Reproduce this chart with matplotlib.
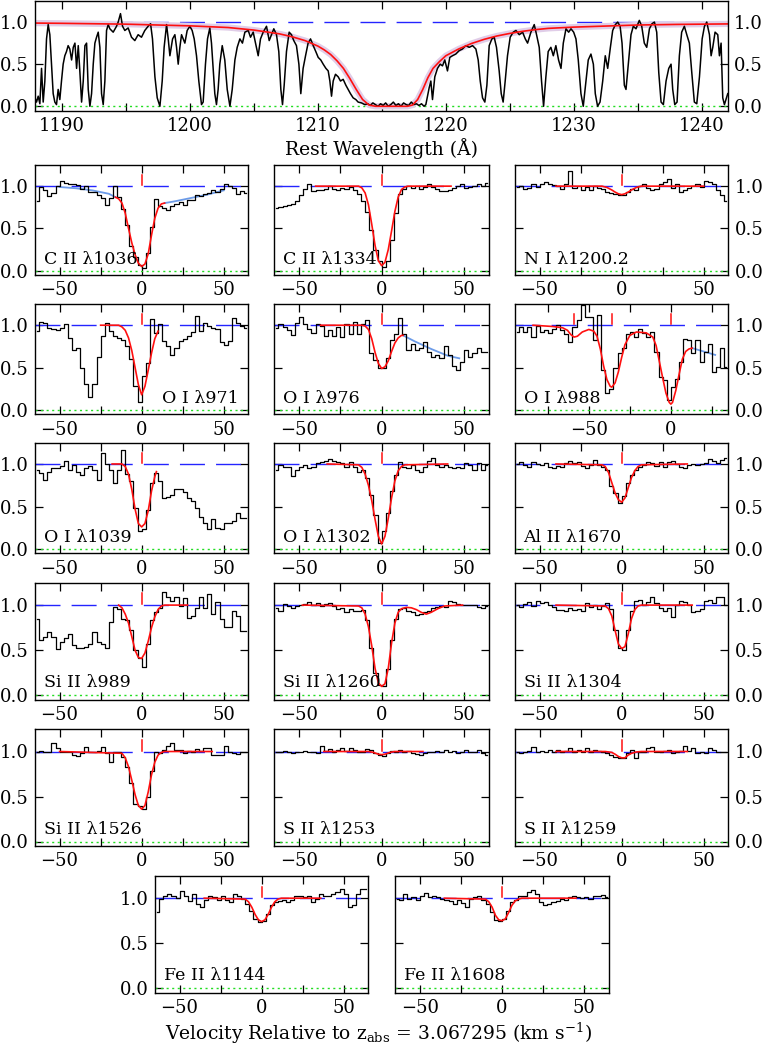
import numpy as np
import matplotlib.pyplot as plt
from matplotlib.ticker import MultipleLocator, FormatStrFormatter

plt.rcParams['font.family'] = ['DejaVu Serif']
plt.rcParams['mathtext.fontset'] = 'dejavuserif'

W, H = 764, 1047
nan = np.nan

# ---------------- top panel: damped Lya ----------------
lya_wave = [1187.90, 1188.02, 1188.15, 1188.28, 1188.41, 1188.54, 1188.67, 1188.80, 1188.93, 1189.06,
            1189.19, 1189.32, 1189.45, 1189.58, 1189.71, 1189.84, 1189.97, 1190.10, 1190.23, 1190.36,
            1190.49, 1190.62, 1190.76, 1190.89, 1191.02, 1191.15, 1191.28, 1191.41, 1191.54, 1191.67,
            1191.80, 1191.93, 1192.06, 1192.19, 1192.32, 1192.45, 1192.58, 1192.71, 1192.84, 1192.97,
            1193.10, 1193.23, 1193.36, 1193.49, 1193.62, 1193.75, 1194.01, 1194.27, 1194.40, 1194.58,
            1194.74, 1194.92, 1195.18, 1195.44, 1195.70, 1195.96, 1196.22, 1196.48, 1196.74, 1196.93,
            1197.08, 1197.27, 1197.45, 1197.66, 1197.84, 1197.99, 1198.18, 1198.31, 1198.44, 1198.65,
            1198.83, 1198.96, 1199.09, 1199.22, 1199.35, 1199.61, 1199.79, 1200.00, 1200.18, 1200.34,
            1200.52, 1200.70, 1200.91, 1201.04, 1201.22, 1201.38, 1201.56, 1201.69, 1201.82, 1201.95,
            1202.08, 1202.21, 1202.34, 1202.53, 1202.73, 1202.92, 1203.13, 1203.31, 1203.52, 1203.70,
            1203.91, 1204.11, 1204.30, 1204.56, 1204.74, 1204.95, 1205.13, 1205.34, 1205.52, 1205.73,
            1205.99, 1206.20, 1206.38, 1206.56, 1206.77, 1206.95, 1207.11, 1207.24, 1207.37, 1207.55,
            1207.76, 1207.94, 1208.12, 1208.33, 1208.52, 1208.67, 1208.85, 1209.04, 1209.24, 1209.43,
            1209.64, 1209.84, 1210.03, 1210.23, 1210.42, 1210.63, 1210.81, 1210.94, 1211.07, 1211.20,
            1211.38, 1211.59, 1211.77, 1211.98, 1212.19, 1212.37, 1212.55, 1212.76, 1212.97, 1213.15,
            1213.41, 1213.67, 1213.90, 1214.10, 1214.30, 1214.50, 1214.70, 1214.90, 1215.10, 1215.30,
            1215.50, 1215.70, 1215.90, 1216.10, 1216.30, 1216.50, 1216.70, 1216.90, 1217.10, 1217.30,
            1217.50, 1217.70, 1217.90, 1218.10, 1218.30, 1218.44, 1218.70, 1218.83, 1218.96, 1219.14,
            1219.35, 1219.56, 1219.74, 1219.92, 1220.13, 1220.31, 1220.52, 1220.78, 1221.04, 1221.30,
            1221.56, 1221.83, 1222.09, 1222.35, 1222.53, 1222.69, 1222.87, 1223.05, 1223.21, 1223.39,
            1223.60, 1223.78, 1223.96, 1224.17, 1224.33, 1224.48, 1224.64, 1224.82, 1225.03, 1225.27,
            1225.48, 1225.74, 1226.00, 1226.21, 1226.39, 1226.65, 1226.91, 1227.09, 1227.30, 1227.48,
            1227.64, 1227.82, 1228.00, 1228.21, 1228.40, 1228.60, 1228.81, 1229.00, 1229.18, 1229.39,
            1229.60, 1229.78, 1229.99, 1230.17, 1230.35, 1230.56, 1230.74, 1230.95, 1231.13, 1231.34,
            1231.53, 1231.68, 1231.86, 1232.05, 1232.26, 1232.46, 1232.65, 1232.86, 1233.04, 1233.25,
            1233.43, 1233.62, 1233.77, 1233.95, 1234.08, 1234.26, 1234.47, 1234.65, 1234.86, 1235.12,
            1235.31, 1235.51, 1235.70, 1235.91, 1236.11, 1236.30, 1236.48, 1236.64, 1236.82, 1237.00,
            1237.21, 1237.42, 1237.60, 1237.73, 1237.89, 1238.07, 1238.25, 1238.43, 1238.64, 1238.83,
            1239.03, 1239.22, 1239.42, 1239.61, 1239.82, 1240.03, 1240.21, 1240.39, 1240.60, 1240.73,
            1240.86, 1241.04, 1241.25, 1241.38, 1241.51, 1241.64, 1241.77, 1242.03]
lya_flux = [0.10, 0.05, 0.12, 0.03, 0.45, 0.05, 0.30, 0.80, 0.97, 0.85,
            0.50, 0.15, 0.05, 0.02, 0.20, 0.08, 0.30, 0.50, 0.60, 0.65,
            0.72, 0.68, 0.55, 0.70, 0.75, 0.45, 0.72, 0.40, 0.05, 0.30,
            0.72, 0.75, 0.20, 0.00, 0.15, 0.50, 0.75, 0.82, 0.88, 0.70,
            0.15, 0.02, 0.30, 0.90, 0.97, 0.92, 0.88, 0.95, 1.00, 1.10,
            0.95, 0.90, 0.93, 0.82, 0.78, 0.85, 0.82, 0.90, 0.95, 0.98,
            0.80, 0.35, 0.10, 0.00, 0.30, 0.70, 0.97, 0.80, 0.60, 0.80,
            0.85, 0.70, 0.50, 0.70, 0.85, 0.75, 0.90, 0.95, 0.90, 0.80,
            0.60, 0.30, 0.02, 0.05, 0.50, 0.80, 0.93, 0.75, 0.45, 0.15,
            0.02, 0.20, 0.50, 0.72, 0.55, 0.20, 0.00, 0.20, 0.55, 0.70,
            0.80, 0.75, 0.88, 0.90, 0.82, 0.88, 0.75, 0.60, 0.80, 0.88,
            0.95, 0.78, 0.85, 0.92, 0.85, 0.65, 0.20, 0.02, 0.25, 0.65,
            0.88, 0.85, 0.78, 0.72, 0.50, 0.15, 0.45, 0.60, 0.75, 0.80,
            0.72, 0.65, 0.58, 0.55, 0.50, 0.45, 0.42, 0.30, 0.12, 0.30,
            0.38, 0.35, 0.30, 0.32, 0.25, 0.20, 0.15, 0.10, 0.08, 0.05,
            0.04, 0.02, 0.03, 0.01, 0.04, 0.02, 0.00, 0.03, 0.01, 0.04,
            0.00, 0.02, 0.05, 0.01, 0.03, 0.00, 0.04, 0.02, 0.01, 0.05,
            0.02, 0.03, 0.01, 0.03, 0.00, 0.02, 0.22, 0.30, 0.08, 0.35,
            0.45, 0.50, 0.48, 0.55, 0.42, 0.58, 0.60, 0.62, 0.66, 0.68,
            0.72, 0.70, 0.72, 0.68, 0.55, 0.30, 0.10, 0.05, 0.25, 0.72,
            0.80, 0.82, 0.70, 0.42, 0.15, 0.05, 0.30, 0.60, 0.82, 0.88,
            0.90, 0.85, 0.88, 0.80, 0.75, 0.88, 0.97, 0.85, 0.70, 0.30,
            0.00, 0.35, 0.65, 0.70, 0.60, 0.72, 0.55, 0.45, 0.75, 0.92,
            0.88, 0.92, 0.88, 0.80, 0.55, 0.15, 0.00, 0.30, 0.55, 0.62,
            0.50, 0.15, 0.00, 0.05, 0.30, 0.60, 0.45, 0.70, 0.90, 0.97,
            1.00, 0.95, 0.75, 0.25, 0.20, 0.50, 0.85, 0.95, 0.92, 1.02,
            0.95, 0.75, 0.70, 0.92, 0.98, 1.00, 0.88, 0.40, 0.05, 0.02,
            0.30, 0.45, 0.50, 0.20, 0.02, 0.05, 0.60, 0.88, 0.95, 0.85,
            0.75, 0.40, 0.05, 0.03, 0.35, 0.80, 0.95, 1.00, 0.85, 0.60,
            0.70, 0.88, 0.85, 0.60, 0.75, 0.10, 0.02, 0.15]
lya_fit_wave = [1187.9, 1190.0, 1195.0, 1200.0, 1203.0, 1205.0, 1207.0, 1208.0, 1209.0, 1210.0,
                1210.5, 1211.0, 1211.5, 1212.0, 1212.5, 1213.0, 1213.5, 1214.0, 1214.5, 1217.0,
                1217.4, 1217.8, 1218.2, 1218.6, 1219.0, 1219.5, 1220.0, 1221.0, 1222.0, 1223.0,
                1224.0, 1225.0, 1226.0, 1227.0, 1228.0, 1230.0, 1233.0, 1235.0, 1238.0, 1242.05]
lya_fit_flux = [0.988, 0.985, 0.975, 0.955, 0.935, 0.905, 0.86, 0.825, 0.78, 0.715,
                0.67, 0.615, 0.54, 0.45, 0.33, 0.20, 0.08, 0.015, 0.0, 0.0,
                0.015, 0.08, 0.20, 0.34, 0.45, 0.53, 0.60, 0.68, 0.745, 0.795,
                0.835, 0.865, 0.89, 0.91, 0.925, 0.94, 0.955, 0.965, 0.972, 0.978]

# ---------------- metal lines: flux in 2.5 km/s pixels ----------------
c2_1036 = [0.82, 0.99, 0.96, 0.88, 0.92, 1.00, 1.06, 1.04, 1.02, 1.02, 1.01, 0.97, 1.00, 0.93, 0.93, 0.90,
           0.86, 0.78, 0.86, 1.00, 0.87, 0.73, 0.54, 0.29, 0.16, 0.07, 0.03, 0.21, 0.52, 0.85, 0.76, 0.74,
           0.72, 0.77, 0.79, 0.81, 0.78, 0.84, 0.84, 0.89, 0.88, 0.91, 0.92, 0.96, 0.93, 0.97, 1.02, 1.00,
           0.98, 0.91, 0.94, 0.92]
c2_1036_fit_v = [-16, -14, -12, -10, -8, -6, -4, -2, 0, 2, 4, 6, 8, 10, 12, 14]
c2_1036_fit_f = [0.87, 0.85, 0.80, 0.68, 0.50, 0.33, 0.19, 0.09, 0.05, 0.08, 0.20, 0.42, 0.62, 0.74, 0.79, 0.80]
c2_1036_cont_v = [-50, -40, -30, -20, -16, nan, 14, 20, 30, 40, 50]
c2_1036_cont_f = [0.99, 0.975, 0.95, 0.91, 0.87, nan, 0.80, 0.82, 0.86, 0.90, 0.95]

c2_1334 = [0.74, 0.75, 0.76, 0.78, 0.79, 0.82, 0.89, 0.97, 1.02, 0.94, 0.96, 0.96, 0.97, 1.00, 0.97, 0.95,
           0.98, 0.97, 0.99, 0.95, 0.91, 0.82, 0.70, 0.48, 0.25, 0.11, 0.05, 0.12, 0.36, 0.68, 0.91, 0.97,
           1.00, 0.98, 1.00, 0.97, 0.99, 1.02, 0.99, 0.97, 0.94, 0.94, 0.96, 0.98, 1.00, 1.03, 0.98, 0.99,
           1.00, 1.02, 1.00, 1.04]
c2_1334_fit_v = [-40, -14, -12, -10, -8, -6, -4, -2, 0, 2, 4, 6, 8, 10, 12, 14, 16, 42]
c2_1334_fit_f = [1, 1, 0.98, 0.92, 0.78, 0.55, 0.30, 0.12, 0.06, 0.10, 0.25, 0.47, 0.70, 0.87, 0.96, 0.99, 1, 1]

n1_1200 = [0.99, 1.00, 0.97, 0.98, 1.02, 0.99, 1.03, 1.05, 1.03, 1.01, 1.00, 0.97, 1.03, 1.18, 0.98, 1.00,
           0.96, 0.99, 0.96, 1.00, 0.98, 0.97, 0.93, 0.92, 0.91, 0.89, 0.90, 0.93, 0.97, 0.95, 1.00, 1.02,
           0.98, 0.95, 0.97, 1.03, 1.05, 1.08, 0.98, 1.02, 0.93, 0.96, 0.98, 1.00, 1.02, 0.99, 1.06, 1.05,
           1.02, 0.96, 0.90, 0.82]
n1_1200_fit_v = [-40, -12, -9, -6, -4, -2, 0, 2, 4, 6, 9, 12, 50]
n1_1200_fit_f = [1, 1, 0.985, 0.955, 0.93, 0.91, 0.90, 0.91, 0.93, 0.955, 0.985, 1, 1]

o1_971 = [0.93, 1.04, 1.03, 0.97, 0.96, 0.94, 0.97, 1.02, 0.85, 0.71, 0.73, 0.50, 0.31, 0.15, 0.31, 0.62,
          0.87, 1.03, 0.93, 0.87, 0.85, 0.83, 0.75, 0.60, 0.28, 0.10, 0.40, 0.55, 1.07, 0.91, 1.01, 0.81,
          0.75, 0.65, 0.73, 0.81, 0.84, 0.87, 0.92, 1.11, 0.93, 1.03, 0.99, 0.97, 0.96, 0.80, 0.77, 0.81,
          1.09, 1.03, 0.99, 0.97]
o1_971_fit_v = [-25, -14, -12, -10, -8, -6, -4, -2, 0, 2, 4, 6, 8, 10]
o1_971_fit_f = [1, 1, 0.98, 0.94, 0.85, 0.70, 0.50, 0.30, 0.18, 0.28, 0.47, 0.67, 0.84, 0.93]

o1_976 = [0.97, 1.02, 0.98, 0.94, 0.89, 1.03, 1.10, 1.02, 0.95, 0.91, 1.02, 0.99, 0.87, 0.94, 0.87, 0.98,
          0.86, 1.02, 0.90, 1.04, 0.90, 1.02, 1.06, 0.67, 0.59, 0.49, 0.50, 0.61, 0.82, 0.90, 1.08, 0.90,
          0.71, 0.78, 0.71, 0.73, 0.80, 0.69, 0.63, 0.65, 0.61, 0.75, 0.65, 0.52, 0.47, 0.57, 0.71, 0.63,
          0.67, 0.73, 0.69, 0.69]
o1_976_fit_v = [-37, -12, -10, -8, -6, -4, -2, 0, 2, 4, 6, 8, 10, 12, 13]
o1_976_fit_f = [1, 1, 0.99, 0.95, 0.84, 0.68, 0.55, 0.49, 0.51, 0.58, 0.69, 0.79, 0.85, 0.88, 0.88]
o1_976_cont_v = [13, 20, 30, 40, 47]
o1_976_cont_f = [0.88, 0.81, 0.72, 0.64, 0.61]

o1_988 = [0.92, 0.98, 0.92, 0.98, 0.86, 0.99, 0.92, 0.94, 0.91, 0.96, 1.00, 0.94, 0.90, 0.80, 0.98, 1.06,
          1.24, 1.10, 1.10, 0.82, 1.12, 0.47, 0.20, 0.25, 0.49, 0.67, 0.73, 0.90, 0.92, 0.86, 0.95, 0.91,
          0.86, 0.92, 0.69, 0.39, 0.35, 0.12, 0.27, 0.37, 0.57, 0.84, 0.82, 0.67, 0.82, 0.57, 0.69, 0.78,
          0.45, 0.51, 0.73, 0.51]
o1_988_fit_v = [-84, -72, -66, -63, -61, -59, -57, -54, -50, -47, -45, -43, -41, -39, -37, -36, -34, -32,
                -30, -28, -25, -21, -15, -11, -9, -7, -5, -3, -1, 0, 1, 3, 5, 7, 9, 11, 13]
o1_988_fit_f = [1.0, 0.985, 0.97, 0.94, 0.89, 0.86, 0.87, 0.92, 0.95, 0.93, 0.87, 0.72, 0.52, 0.36, 0.28,
                0.27, 0.32, 0.45, 0.62, 0.77, 0.88, 0.92, 0.91, 0.86, 0.76, 0.57, 0.38, 0.20, 0.09, 0.07,
                0.09, 0.23, 0.42, 0.60, 0.69, 0.72, 0.73]
o1_988_cont_v = [13, 20, 27]
o1_988_cont_f = [0.73, 0.69, 0.65]
o1_988_comps = [-59.3, -35.9, 0.0]

o1_1039 = [0.93, 0.89, 0.81, 0.90, 0.95, 0.95, 0.98, 1.03, 0.93, 0.99, 0.90, 0.87, 0.95, 0.98, 0.93, 0.81,
           1.13, 1.00, 0.93, 0.78, 0.93, 1.16, 0.88, 0.80, 0.48, 0.21, 0.23, 0.46, 0.78, 0.89, 0.80, 0.60,
           0.61, 0.64, 0.70, 0.71, 0.67, 0.60, 0.56, 0.48, 0.38, 0.31, 0.24, 0.35, 0.25, 0.23, 0.31, 0.31,
           0.33, 0.42, 0.36, 0.37]
o1_1039_fit_v = [-18, -12, -10, -8, -6, -4, -2, 0, 2, 4, 6, 8, 9]
o1_1039_fit_f = [1, 1, 0.97, 0.88, 0.70, 0.47, 0.30, 0.26, 0.30, 0.45, 0.68, 0.85, 0.91]

o1_1302 = [0.93, 0.99, 0.97, 0.97, 0.86, 0.93, 0.97, 0.99, 0.95, 0.97, 1.01, 1.02, 1.03, 1.06, 1.03, 1.02,
           1.01, 0.97, 1.02, 0.97, 0.91, 0.93, 0.84, 0.63, 0.40, 0.07, 0.21, 0.42, 0.68, 0.87, 1.02, 0.97,
           0.95, 0.99, 0.93, 0.91, 0.97, 1.03, 1.07, 0.99, 0.97, 0.99, 0.96, 0.95, 0.97, 0.95, 1.01, 0.99,
           0.93, 1.01, 0.93, 0.99]
o1_1302_fit_v = [-33, -14, -12, -10, -8, -6, -4, -2, 0, 2, 4, 6, 8, 10, 12, 14, 40]
o1_1302_fit_f = [1, 0.99, 0.96, 0.88, 0.75, 0.57, 0.35, 0.15, 0.06, 0.15, 0.36, 0.60, 0.80, 0.92, 0.97, 0.99, 1]

al2_1670 = [1.00, 1.02, 0.99, 0.97, 1.02, 1.00, 0.99, 1.01, 0.97, 0.95, 0.98, 0.97, 1.01, 1.03, 1.01, 1.02,
            0.98, 0.95, 0.99, 1.05, 0.99, 0.97, 0.93, 0.74, 0.66, 0.54, 0.62, 0.78, 0.87, 0.93, 0.97, 0.99,
            1.02, 1.01, 0.98, 1.02, 0.97, 1.02, 1.03, 1.00, 0.97, 0.95, 0.99, 1.00, 0.99, 1.00, 1.01, 1.06,
            1.03, 1.01, 1.05, 1.07]
al2_1670_fit_v = [-40, -12, -10, -8, -6, -4, -2, 0, 2, 4, 6, 8, 10, 12, 40]
al2_1670_fit_f = [1, 0.99, 0.97, 0.90, 0.78, 0.66, 0.58, 0.55, 0.60, 0.72, 0.84, 0.92, 0.97, 0.99, 1]

si2_989 = [0.85, 0.61, 0.65, 0.70, 0.65, 0.51, 0.59, 0.64, 0.68, 0.56, 0.53, 0.52, 0.54, 0.57, 0.70, 0.59,
           0.57, 0.53, 0.81, 0.98, 0.96, 0.85, 0.83, 0.72, 0.50, 0.41, 0.32, 0.57, 0.83, 0.92, 0.97, 1.15,
           1.09, 1.05, 1.09, 0.99, 1.08, 0.86, 0.88, 0.97, 1.09, 0.97, 1.12, 0.90, 1.03, 0.85, 0.76, 0.76,
           0.93, 0.88, 0.71, 0.71]
si2_989_fit_v = [-14, -12, -10, -8, -6, -4, -2, 0, 2, 4, 6, 8, 10, 12, 14, 28]
si2_989_fit_f = [1, 0.97, 0.90, 0.80, 0.65, 0.50, 0.42, 0.41, 0.47, 0.60, 0.75, 0.87, 0.95, 0.99, 1, 1]

si2_1260 = [0.97, 0.94, 1.01, 0.99, 0.97, 0.99, 1.00, 1.01, 1.03, 1.00, 1.02, 0.99, 1.01, 1.02, 0.99, 0.96,
            0.97, 0.92, 0.96, 0.93, 0.94, 0.95, 0.83, 0.52, 0.25, 0.12, 0.10, 0.29, 0.61, 0.85, 0.96, 0.97,
            0.94, 0.92, 0.89, 0.90, 0.92, 0.94, 0.97, 0.98, 0.99, 0.98, 1.05, 1.03, 1.01, 1.00, 1.00, 1.00,
            1.00, 0.98, 0.97, 0.99]
si2_1260_fit_v = [-48, -14, -12, -10, -8, -6, -4, -2, 0, 2, 4, 6, 8, 10, 12, 15, 18, 21, 24, 27, 30, 34, 38, 49]
si2_1260_fit_f = [1, 0.99, 0.97, 0.90, 0.76, 0.55, 0.30, 0.14, 0.10, 0.13, 0.30, 0.58, 0.80, 0.92, 0.96,
                  0.975, 0.97, 0.95, 0.92, 0.90, 0.92, 0.96, 0.99, 1]

si2_1304 = [1.00, 0.98, 1.01, 1.03, 0.99, 1.04, 1.02, 1.03, 1.00, 0.98, 0.95, 0.95, 0.93, 0.97, 0.95, 0.96,
            0.94, 1.02, 0.98, 1.00, 0.96, 0.99, 1.02, 0.96, 0.72, 0.52, 0.50, 0.72, 0.93, 1.04, 1.06, 1.00,
            1.03, 1.09, 1.02, 0.97, 0.93, 0.97, 0.87, 1.00, 1.04, 1.03, 1.00, 0.92, 0.93, 0.96, 1.04, 1.06,
            1.02, 1.09, 1.09, 1.00]
si2_1304_fit_v = [-40, -10, -8, -6, -4, -2, 0, 2, 4, 6, 8, 10, 12, 43]
si2_1304_fit_f = [1, 0.99, 0.96, 0.88, 0.72, 0.57, 0.52, 0.54, 0.68, 0.85, 0.95, 0.99, 1, 1]

si2_1526 = [0.99, 1.01, 1.00, 1.00, 1.09, 1.04, 1.00, 1.00, 1.00, 0.96, 0.95, 0.98, 1.05, 1.00, 1.00, 1.01,
            1.05, 0.98, 0.88, 1.00, 1.00, 0.94, 0.83, 0.65, 0.42, 0.39, 0.36, 0.49, 0.78, 1.00, 0.98, 1.02,
            1.06, 1.09, 1.02, 1.02, 0.98, 1.01, 0.99, 1.03, 1.01, 1.04, 1.04, 0.96, 0.96, 0.96, 1.06, 1.00,
            0.98, 0.97, 0.99, 1.00]
si2_1526_fit_v = [-50, -12, -10, -8, -6, -4, -2, 0, 2, 4, 6, 8, 10, 12, 14, 43]
si2_1526_fit_f = [1, 0.98, 0.93, 0.83, 0.68, 0.52, 0.40, 0.36, 0.40, 0.55, 0.74, 0.88, 0.96, 0.99, 1, 1]

s2_1253 = [1.00, 0.99, 1.01, 0.99, 0.98, 1.00, 0.99, 1.01, 0.99, 1.00, 0.98, 1.06, 1.01, 1.03, 1.00, 1.02,
           1.04, 1.01, 1.04, 1.02, 1.00, 0.99, 1.03, 1.02, 0.98, 0.96, 0.95, 0.98, 1.01, 1.00, 1.02, 1.00,
           1.01, 0.98, 0.97, 0.96, 0.98, 1.00, 0.99, 1.01, 0.99, 1.02, 1.00, 1.01, 0.98, 1.00, 1.02, 0.99,
           1.00, 1.02, 0.98, 0.96]
s2_1253_fit_v = [-35, -8, -5, -2, 0, 2, 5, 8, 25]
s2_1253_fit_f = [1, 1, 0.99, 0.97, 0.965, 0.97, 0.99, 1, 1]

s2_1259 = [1.00, 0.98, 0.99, 1.01, 1.05, 1.00, 1.01, 0.99, 1.02, 1.00, 1.02, 0.99, 1.01, 1.04, 1.00, 1.02,
           0.99, 1.04, 1.00, 1.02, 1.01, 0.99, 0.98, 0.96, 0.94, 0.93, 0.93, 0.98, 1.02, 0.93, 1.00, 1.00,
           1.04, 1.05, 1.00, 0.99, 1.01, 1.02, 0.98, 0.99, 1.01, 1.06, 1.01, 1.04, 0.98, 0.99, 0.98, 1.04,
           1.02, 0.99, 1.00, 0.99]
s2_1259_fit_v = [-40, -10, -6, -4, -2, 0, 2, 4, 6, 9, 12, 40]
s2_1259_fit_f = [1, 1, 0.99, 0.97, 0.945, 0.93, 0.93, 0.96, 0.98, 0.995, 1, 1]

fe2_1144 = [0.85, 0.99, 1.03, 1.05, 1.02, 1.00, 1.08, 1.02, 0.97, 1.05, 0.94, 0.90, 0.98, 1.03, 1.01, 0.98,
            1.02, 0.98, 0.96, 1.05, 1.03, 0.99, 0.94, 0.86, 0.77, 0.74, 0.75, 0.83, 0.92, 0.96, 0.97, 0.98,
            0.96, 0.98, 1.03, 1.03, 1.01, 1.03, 0.96, 0.99, 1.05, 1.03, 1.03, 1.05, 1.07, 1.10, 1.05, 0.90,
            0.92, 1.05, 1.10, 1.10]
fe2_1144_fit_v = [-35, -10, -8, -6, -4, -2, 0, 2, 4, 6, 8, 10, 12, 36]
fe2_1144_fit_f = [1, 0.99, 0.96, 0.90, 0.82, 0.76, 0.74, 0.76, 0.82, 0.90, 0.96, 0.99, 1, 1]

fe2_1608 = [0.99, 0.98, 1.05, 0.99, 1.01, 0.98, 1.03, 1.06, 1.01, 1.03, 1.01, 0.99, 0.98, 0.97, 0.94, 0.98,
            0.95, 0.90, 0.99, 1.01, 1.02, 0.98, 0.94, 0.85, 0.76, 0.75, 0.77, 0.86, 0.96, 0.98, 1.02, 1.02,
            1.07, 1.09, 1.05, 0.96, 0.92, 0.94, 0.96, 0.97, 0.99, 0.98, 1.01, 1.02, 1.01, 1.00, 1.01, 0.99,
            1.02, 1.03, 1.04, 1.01]
fe2_1608_fit_v = [-35, -10, -8, -6, -4, -2, 0, 2, 4, 6, 8, 10, 12, 45]
fe2_1608_fit_f = [1, 0.99, 0.96, 0.90, 0.81, 0.76, 0.75, 0.77, 0.84, 0.92, 0.97, 0.99, 1, 1]

# ---------------- layout (pixel boxes: left, top, right, bottom) ----------------
cols = [(35, 248.3), (274.3, 489), (515, 728.3)]
rows = [(165, 275), (304, 414.3), (442.7, 553.3), (582.5, 700), (729, 846)]
row6_cols = [(155, 368.3), (395, 609)]
row6 = (875.7, 992.7)

BLUE = '#2424ff'
LBLUE = '#6c9be8'
RED = '#ff1010'
GREEN = '#22dd22'
FS = 13

fig = plt.figure(figsize=(W / 100, H / 100), dpi=100)


def add_axes(left, top, right, bottom):
    return fig.add_axes([left / W, 1 - bottom / H, (right - left) / W, (bottom - top) / H])


def style(ax, major, minor, yleft, yright):
    ax.set_ylim(-0.05, 1.25)
    ax.set_yticks([0.0, 0.5, 1.0])
    ax.yaxis.set_major_formatter(FormatStrFormatter('%.1f'))
    ax.xaxis.set_major_locator(MultipleLocator(major))
    ax.xaxis.set_minor_locator(MultipleLocator(minor))
    ax.tick_params(which='both', direction='in', top=True, right=True, length=5.5, width=0.9,
                   labelsize=FS, pad=4.5, labelleft=yleft, labelright=yright)
    for s in ax.spines.values():
        s.set_linewidth(1.0)


# top panel
ax = add_axes(35, 1, 728, 110.5)
ax.set_xlim(1187.9, 1242.05)
style(ax, 10, 5, True, True)
ax.axhline(1.0, color=BLUE, lw=1, dashes=(18, 8))
ax.axhline(0.0, color=GREEN, lw=1, dashes=(1.5, 2.5))
ax.plot(lya_fit_wave, lya_fit_flux, color='#e0cde8', lw=4.5, solid_capstyle='butt')
ax.plot(lya_wave, lya_flux, color='black', lw=1.1)
ax.plot(lya_fit_wave, lya_fit_flux, color=RED, lw=1.2)
fig.text(381.5 / W, 1 - 149 / H, 'Rest Wavelength (Å)', ha='center', va='center', fontsize=FS + 0.5)

# metal line panels: (label, flux, fit v, fit f, cont v, cont f, first pixel, components)
panels = [
    ('C II λ1036', c2_1036, c2_1036_fit_v, c2_1036_fit_f, c2_1036_cont_v, c2_1036_cont_f, -65, [0.0]),
    ('C II λ1334', c2_1334, c2_1334_fit_v, c2_1334_fit_f, None, None, -65, [0.0]),
    ('N I λ1200.2', n1_1200, n1_1200_fit_v, n1_1200_fit_f, None, None, -65, [0.0]),
    ('O I λ971', o1_971, o1_971_fit_v, o1_971_fit_f, None, None, -65, [0.0]),
    ('O I λ976', o1_976, o1_976_fit_v, o1_976_fit_f, o1_976_cont_v, o1_976_cont_f, -65, [0.0]),
    ('O I λ988', o1_988, o1_988_fit_v, o1_988_fit_f, o1_988_cont_v, o1_988_cont_f, -95, o1_988_comps),
    ('O I λ1039', o1_1039, o1_1039_fit_v, o1_1039_fit_f, None, None, -65, [0.0]),
    ('O I λ1302', o1_1302, o1_1302_fit_v, o1_1302_fit_f, None, None, -65, [0.0]),
    ('Al II λ1670', al2_1670, al2_1670_fit_v, al2_1670_fit_f, None, None, -65, [0.0]),
    ('Si II λ989', si2_989, si2_989_fit_v, si2_989_fit_f, None, None, -65, [0.0]),
    ('Si II λ1260', si2_1260, si2_1260_fit_v, si2_1260_fit_f, None, None, -65, [0.0]),
    ('Si II λ1304', si2_1304, si2_1304_fit_v, si2_1304_fit_f, None, None, -65, [0.0]),
    ('Si II λ1526', si2_1526, si2_1526_fit_v, si2_1526_fit_f, None, None, -65, [0.0]),
    ('S II λ1253', s2_1253, s2_1253_fit_v, s2_1253_fit_f, None, None, -65, [0.0]),
    ('S II λ1259', s2_1259, s2_1259_fit_v, s2_1259_fit_f, None, None, -65, [0.0]),
    ('Fe II λ1144', fe2_1144, fe2_1144_fit_v, fe2_1144_fit_f, None, None, -65, [0.0]),
    ('Fe II λ1608', fe2_1608, fe2_1608_fit_v, fe2_1608_fit_f, None, None, -65, [0.0]),
]

for i, (label, flux, fv, ff, cv, cf, vlo, comps) in enumerate(panels):
    if i < 15:
        r, c = divmod(i, 3)
        (l, rr), (t, b) = cols[c], rows[r]
        yleft, yright = c == 0, c == 2
    else:
        c = i - 15
        (l, rr), (t, b) = row6_cols[c], row6
        yleft, yright = c == 0, False
    ax = add_axes(l, t, rr, b)
    ax.set_xlim(vlo, vlo + 130)
    style(ax, 50, 25, yleft, yright)
    v = vlo + 1.25 + 2.5 * np.arange(len(flux))
    ax.axhline(1.0, color=BLUE, lw=1, dashes=(18, 8))
    ax.axhline(0.0, color=GREEN, lw=1, dashes=(1.5, 2.5))
    if cv is not None:
        ax.plot(cv, cf, color=LBLUE, lw=1.3)
    ax.step(v, flux, where='mid', color='black', lw=0.9)
    ax.plot(fv, ff, color=RED, lw=1.2)
    for vc in comps:
        ax.plot([vc, vc], [1.01, 1.13], color=RED, lw=1.1)
    if label == 'O I λ971':
        ax.text(0.955, 0.145, label, transform=ax.transAxes, ha='right', va='center', fontsize=FS - 0.5)
    else:
        ax.text(0.04, 0.145, label, transform=ax.transAxes, ha='left', va='center', fontsize=FS - 0.5)

fig.text(379 / W, 1 - 1033 / H, r'Velocity Relative to $\mathrm{z}_{\mathrm{abs}}$ = 3.067295 (km s$^{-1}$)',
         ha='center', va='center', fontsize=FS + 0.5)

fig.savefig('out.png', dpi=100)
